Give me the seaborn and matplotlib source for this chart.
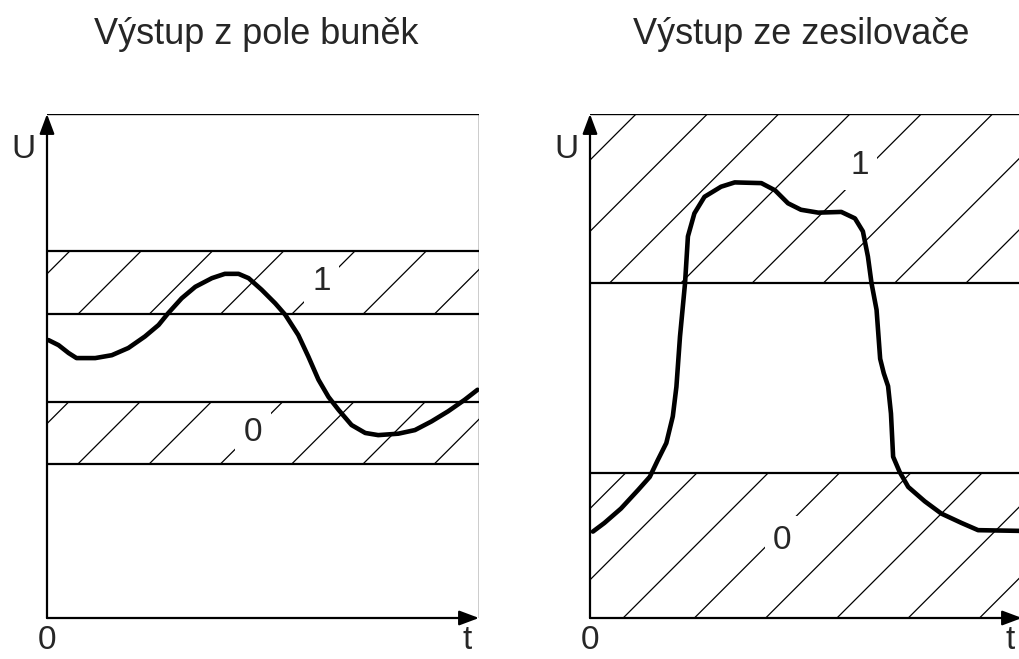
import numpy as np
import pandas as pd
import matplotlib
matplotlib.use("Agg")
import matplotlib.pyplot as plt
import seaborn as sns

# panel titles
titles = ["Výstup z pole buněk", "Výstup ze zesilovače"]

# signal from the cell array (t, U)
t_cells = [0.02, 0.16, 0.30, 0.41, 0.67, 0.90, 1.13, 1.36, 1.55, 1.68, 1.87, 2.06,
           2.29, 2.47, 2.66, 2.80, 2.98, 3.17, 3.31, 3.49, 3.63, 3.77, 3.91, 4.05,
           4.23, 4.42, 4.60, 4.88, 5.11, 5.34, 5.57, 5.80, 5.98]
u_cells = [3.86, 3.79, 3.68, 3.61, 3.61, 3.65, 3.75, 3.91, 4.07, 4.23, 4.44, 4.60,
           4.72, 4.78, 4.78, 4.72, 4.56, 4.37, 4.21, 3.93, 3.63, 3.31, 3.07, 2.89,
           2.68, 2.57, 2.54, 2.56, 2.61, 2.73, 2.87, 3.03, 3.17]

# signal at the amplifier output (t, U)
t_amp = [0.04, 0.20, 0.43, 0.67, 0.83, 0.94, 1.06, 1.15, 1.20, 1.25, 1.32, 1.36,
         1.45, 1.59, 1.82, 2.01, 2.38, 2.57, 2.75, 2.93, 3.17, 3.49, 3.68, 3.79,
         3.86, 3.91, 3.98, 4.03, 4.08, 4.14, 4.18, 4.21, 4.30, 4.42, 4.65, 4.88,
         5.16, 5.39, 5.97]
u_amp = [1.20, 1.32, 1.52, 1.78, 1.96, 2.19, 2.43, 2.80, 3.21, 3.91, 4.65, 5.30,
         5.62, 5.85, 5.99, 6.05, 6.04, 5.94, 5.76, 5.67, 5.63, 5.64, 5.55, 5.37,
         5.02, 4.65, 4.28, 3.60, 3.40, 3.22, 2.84, 2.24, 2.03, 1.82, 1.62, 1.45,
         1.32, 1.22, 1.21]

# logic level bands: label -> (lower U, upper U)
bands_cells = {"0": (2.14, 3.00), "1": (4.22, 5.10)}
bands_amp = {"0": (0.00, 2.01), "1": (4.65, 7.00)}

T_MAX, U_MAX = 6.0, 7.0
HATCH_STEP = 0.99

sns.set_style("white")
plt.rcParams["font.family"] = ["Liberation Sans", "DejaVu Sans"]

fig = plt.figure(figsize=(10.2, 6.59), dpi=100)
W, H = 1020, 659


def hatch_band(ax, lo, hi, phase):
    h = hi - lo
    start = phase - HATCH_STEP * np.ceil(h / HATCH_STEP + 1)
    for s in np.arange(start, T_MAX + HATCH_STEP, HATCH_STEP):
        ax.plot([s, s + h], [lo, hi], color="black", lw=0.9, zorder=1,
                solid_capstyle="butt")


def draw_panel(ax, t, u, bands, phases, label_pos, right_border):
    for key, (lo, hi) in bands.items():
        hatch_band(ax, lo, hi, phases[key])
        for y in (lo, hi):
            if 0 < y < U_MAX:
                ax.axhline(y, color="black", lw=1.6, zorder=2)
        ax.text(*label_pos[key], key, fontsize=24, ha="center", va="center",
                zorder=3, bbox=dict(boxstyle="square,pad=0.25", fc="white", ec="none"))

    ax.axhline(U_MAX, color="black", lw=1.0, zorder=2)
    if right_border:
        ax.axvline(T_MAX, color="black", lw=1.0, zorder=2)

    df = pd.DataFrame({"t": t, "U": u})
    sns.lineplot(data=df, x="t", y="U", ax=ax, color="black", linewidth=3.3,
                 estimator=None, sort=False, zorder=4,
                 solid_joinstyle="round", solid_capstyle="round")

    arrow = dict(arrowstyle="-|>,head_length=0.4,head_width=0.15",
                 color="black", lw=1.6, mutation_scale=30, shrinkA=0, shrinkB=0)
    ax.annotate("", xy=(0, U_MAX), xytext=(0, 0), arrowprops=arrow,
                annotation_clip=False, zorder=5)
    ax.annotate("", xy=(T_MAX, 0), xytext=(0, 0), arrowprops=arrow,
                annotation_clip=False, zorder=5)

    ax.text(-0.33, 6.39, "U", fontsize=24, ha="center", va="baseline")
    ax.text(0, -0.53, "0", fontsize=24, ha="center", va="bottom", clip_on=False)
    ax.text(5.83, -0.53, "t", fontsize=24, ha="center", va="bottom", clip_on=False)

    ax.set_xlim(0, T_MAX)
    ax.set_ylim(0, U_MAX)
    ax.set_xlabel("")
    ax.set_ylabel("")
    ax.set_xticks([])
    ax.set_yticks([])
    for sp in ax.spines.values():
        sp.set_visible(False)
    ax.patch.set_alpha(0)


ax1 = fig.add_axes([47 / W, 41 / H, 432 / W, 504 / H])
ax2 = fig.add_axes([590 / W, 41 / H, 432 / W, 504 / H])

draw_panel(ax1, t_cells, u_cells, bands_cells,
           {"0": 0.43, "1": 0.43},
           {"0": (2.86, 2.57), "1": (3.81, 4.67)}, True)
draw_panel(ax2, t_amp, u_amp, bands_amp,
           {"0": 0.46, "1": 0.27},
           {"0": (2.67, 1.08), "1": (3.74, 6.28)}, False)

fig.text(256 / W, 1 - 44 / H, titles[0], fontsize=26, ha="center", va="baseline")
fig.text(801 / W, 1 - 44 / H, titles[1], fontsize=26, ha="center", va="baseline")

fig.savefig("out.png", dpi=100)
